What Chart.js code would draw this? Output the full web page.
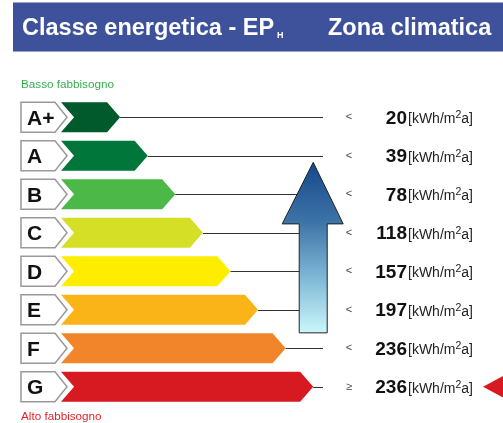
<!DOCTYPE html>
<html>
<head>
<meta charset="utf-8">
<script src="https://cdn.jsdelivr.net/npm/chart.js"></script>
<style>
body { margin: 0; background: #fff; }
#wrap { width: 503px; height: 423px; position: relative; }
</style>
</head>
<body>
<div id="wrap"><canvas id="energyChart"></canvas></div>
<script>
// classes, arrow length (rank) and the upper EP limit for each class
var classes = ["A+", "A", "B", "C", "D", "E", "F", "G"];
var classRank = [1, 2, 3, 4, 5, 6, 7, 8];
var limits = [20, 39, 78, 118, 157, 197, 236, 236];
var comparators = ["<", "<", "<", "<", "<", "<", "<", "≥"];
var classColors = ["#005a2b", "#00763a", "#4cb848", "#d5df25", "#ffed00", "#fbb417", "#f28529", "#d71a21"];
var currentClass = "G";

var xMin = -1.143;
var xMax = 8.355;
var FONT = "'Liberation Sans', Arial, sans-serif";

var energyPlugin = {
    id: "energyPlugin",
    beforeDatasetDraw: function () {
        return false; // arrows are drawn below, not as plain bars
    },
    beforeDraw: function (chart) {
        var ctx = chart.ctx;
        ctx.save();
        ctx.fillStyle = "#fff";
        ctx.fillRect(0, 0, chart.width, chart.height);

        // header band
        ctx.fillStyle = "#3e519b";
        ctx.fillRect(13, 3, chart.width - 13, 48);
        ctx.strokeStyle = "#9aa3cb";
        ctx.lineWidth = 1;
        ctx.beginPath();
        ctx.moveTo(13, 2.5); ctx.lineTo(chart.width, 2.5);
        ctx.moveTo(13, 51.5); ctx.lineTo(chart.width, 51.5);
        ctx.stroke();

        ctx.fillStyle = "#fff";
        ctx.textBaseline = "alphabetic";
        ctx.textAlign = "left";
        ctx.font = "bold 23.5px " + FONT;
        var t = "Classe energetica - EP";
        ctx.fillText(t, 22, 35);
        var w = ctx.measureText(t).width;
        ctx.font = "bold 9px " + FONT;
        ctx.fillText("H", 22 + w + 3, 38);
        ctx.font = "bold 23.5px " + FONT;
        ctx.fillText("Zona climatica", 328, 35);

        ctx.font = "11.7px " + FONT;
        ctx.fillStyle = "#35b04f";
        ctx.fillText("Basso fabbisogno", 21, 88);
        ctx.fillStyle = "#e3242b";
        ctx.fillText("Alto fabbisogno", 21, 420);
        ctx.restore();
    },
    afterDatasetsDraw: function (chart) {
        var ctx = chart.ctx;
        var area = chart.chartArea;
        var xScale = chart.scales.x;
        var yScale = chart.scales.y;
        var bars = chart.getDatasetMeta(0).data;
        ctx.save();

        // thin lines from each arrow tip to the right edge
        ctx.strokeStyle = "#333";
        ctx.lineWidth = 1;
        bars.forEach(function (bar) {
            var p = bar.getProps(["x", "y"], true);
            var yy = Math.round(p.y) + 0.5;
            ctx.beginPath();
            ctx.moveTo(p.x, yy);
            ctx.lineTo(area.right, yy);
            ctx.stroke();
        });

        // coloured class arrows
        bars.forEach(function (bar) {
            var p = bar.getProps(["x", "y", "base", "height"], true);
            var h = p.height / 2;
            var n = h * 0.87;
            ctx.fillStyle = bar.options.backgroundColor;
            ctx.beginPath();
            ctx.moveTo(p.base, p.y - h);
            ctx.lineTo(p.x - n, p.y - h);
            ctx.lineTo(p.x, p.y);
            ctx.lineTo(p.x - n, p.y + h);
            ctx.lineTo(p.base, p.y + h);
            ctx.lineTo(p.base + n, p.y);
            ctx.closePath();
            ctx.fill();
        });

        // letter boxes on the left
        bars.forEach(function (bar, i) {
            var p = bar.getProps(["y", "height"], true);
            var h = p.height / 2;
            var left = area.left - 40;
            ctx.fillStyle = "#fff";
            ctx.strokeStyle = "#999";
            ctx.lineWidth = 1.5;
            ctx.beginPath();
            ctx.moveTo(left, p.y - h);
            ctx.lineTo(area.left - 6, p.y - h);
            ctx.lineTo(area.left + 6, p.y);
            ctx.lineTo(area.left - 6, p.y + h);
            ctx.lineTo(left, p.y + h);
            ctx.closePath();
            ctx.fill();
            ctx.stroke();
            ctx.fillStyle = "#111";
            ctx.font = "bold 21px " + FONT;
            ctx.textAlign = "left";
            ctx.textBaseline = "alphabetic";
            ctx.fillText(classes[i], left + 6, p.y + 7.5);
        });

        // big blue arrow
        var cx = xScale.getPixelForValue(8);
        var tipY = yScale.getPixelForValue(1.17);
        var headY = yScale.getPixelForValue(2.77);
        var botY = yScale.getPixelForValue(5.6);
        var grad = ctx.createLinearGradient(0, tipY, 0, botY);
        grad.addColorStop(0, "#15488a");
        grad.addColorStop(0.35, "#3d74a7");
        grad.addColorStop(0.65, "#79b2d2");
        grad.addColorStop(1, "#cbf7fb");
        ctx.fillStyle = grad;
        ctx.strokeStyle = "#222";
        ctx.lineWidth = 1;
        ctx.beginPath();
        ctx.moveTo(cx, tipY);
        ctx.lineTo(cx + 30, headY);
        ctx.lineTo(cx + 14, headY);
        ctx.lineTo(cx + 14, botY);
        ctx.lineTo(cx - 14, botY);
        ctx.lineTo(cx - 14, headY);
        ctx.lineTo(cx - 31, headY);
        ctx.closePath();
        ctx.fill();
        ctx.stroke();

        // limits on the right
        bars.forEach(function (bar, i) {
            var p = bar.getProps(["y"], true);
            ctx.fillStyle = "#444";
            ctx.font = "11px " + FONT;
            ctx.textAlign = "center";
            ctx.textBaseline = "middle";
            ctx.fillText(comparators[i], area.right + 26, p.y);

            ctx.textBaseline = "alphabetic";
            ctx.fillStyle = "#111";
            ctx.font = "bold 19px " + FONT;
            ctx.textAlign = "right";
            ctx.fillText(String(limits[i]), area.right + 84, p.y + 6.5);

            ctx.textAlign = "left";
            ctx.fillStyle = "#222";
            ctx.font = "14px " + FONT;
            var ux = area.right + 85;
            ctx.fillText("[kWh/m", ux, p.y + 6);
            ux += ctx.measureText("[kWh/m").width;
            ctx.font = "10.5px " + FONT;
            ctx.fillText("2", ux, p.y + 1);
            ux += ctx.measureText("2").width;
            ctx.font = "14px " + FONT;
            ctx.fillText("a]", ux, p.y + 6);
        });

        // red pointer on the building's class
        var k = classes.indexOf(currentClass);
        var py = bars[k].getProps(["y"], true).y;
        ctx.fillStyle = "#d71a21";
        ctx.beginPath();
        ctx.moveTo(area.right + 160, py);
        ctx.lineTo(area.right + 190, py - 16);
        ctx.lineTo(area.right + 190, py + 16);
        ctx.closePath();
        ctx.fill();

        ctx.restore();
    }
};

new Chart("energyChart", {
    type: "bar",
    data: {
        labels: classes,
        datasets: [{
            data: classRank,
            base: xMin,
            backgroundColor: classColors,
            borderWidth: 0,
            categoryPercentage: 1,
            barPercentage: 0.78
        }]
    },
    options: {
        indexAxis: "y",
        responsive: true,
        maintainAspectRatio: false,
        animation: false,
        events: [],
        layout: { padding: { left: 61, right: 180, top: 98, bottom: 17 } },
        plugins: { legend: { display: false }, tooltip: { enabled: false } },
        scales: {
            x: { type: "linear", min: xMin, max: xMax, display: false },
            y: { type: "category", display: false, offset: true }
        }
    },
    plugins: [energyPlugin]
});
</script>
</body>
</html>
